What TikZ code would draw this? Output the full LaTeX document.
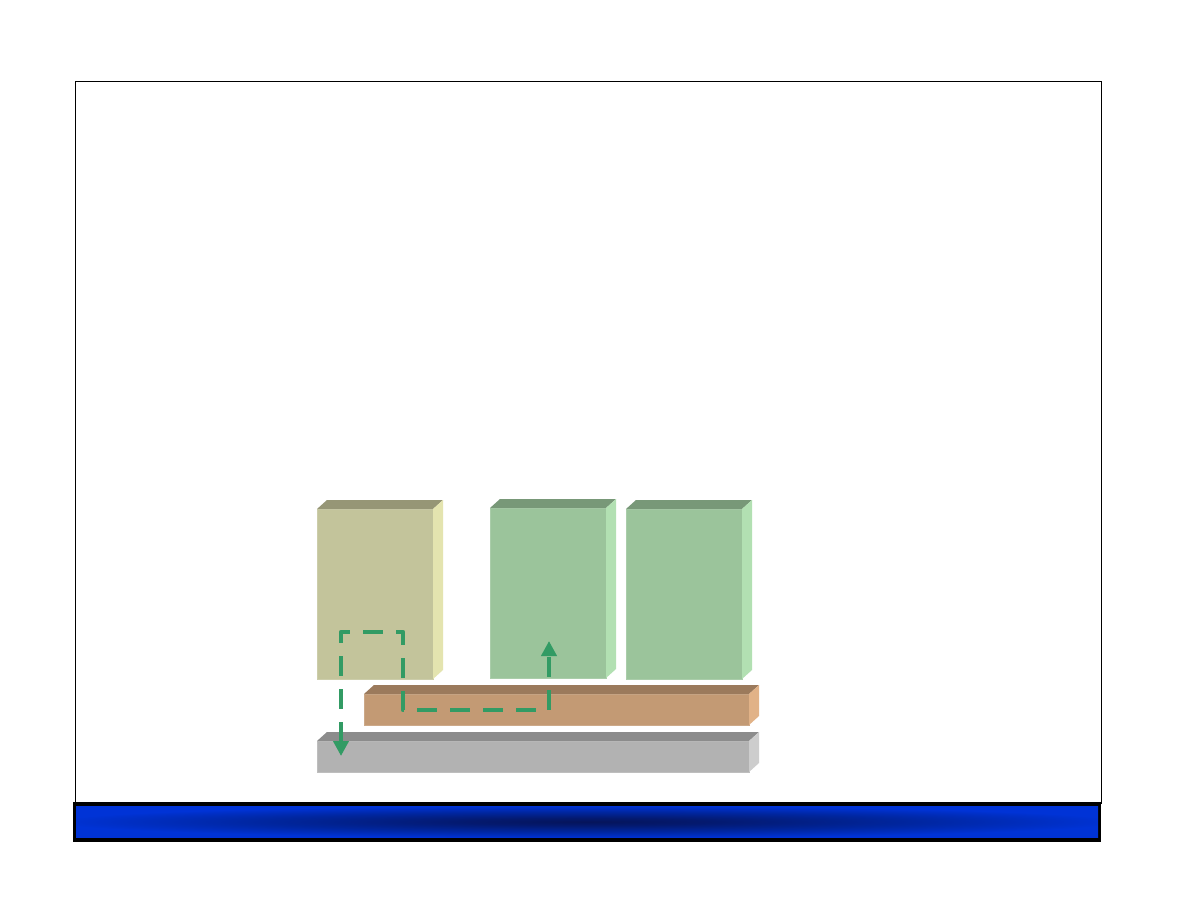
\documentclass[tikz,border=0pt]{standalone}
\usetikzlibrary{arrows.meta,positioning,calc}
\definecolor{OliveFront}{RGB}{195,196,155}
\definecolor{OliveTop}{RGB}{150,150,118}
\definecolor{OliveSide}{RGB}{228,228,175}
\definecolor{LeafFront}{RGB}{155,196,155}
\definecolor{LeafTop}{RGB}{120,152,120}
\definecolor{LeafSide}{RGB}{178,224,178}
\definecolor{CopperFront}{RGB}{195,154,116}
\definecolor{CopperTop}{RGB}{155,122,92}
\definecolor{CopperSide}{RGB}{225,178,135}
\definecolor{SlateFront}{RGB}{178,178,178}
\definecolor{SlateTop}{RGB}{140,140,140}
\definecolor{SlateSide}{RGB}{205,205,205}
\definecolor{PathGreen}{RGB}{50,155,100}
\definecolor{BarBlue}{RGB}{0,51,214}
\definecolor{BarMid}{RGB}{0,38,160}
\definecolor{BarNavy}{RGB}{5,20,90}
\pgfdeclareradialshading{barglow}{\pgfpoint{0bp}{0bp}}{color(0bp)=(BarNavy); color(6bp)=(BarNavy!70!BarMid); color(16bp)=(BarMid); color(26bp)=(BarBlue); color(50bp)=(BarBlue)}
\tikzset{
  slab/.style={rectangle,inner sep=0pt,outer sep=0pt,anchor=north west,
    line width=0.6pt},
  flow/.style={line width=4.5pt,color=PathGreen,dash pattern=on 20pt off 13pt,
    line join=round,{Triangle[width=15pt,length=15pt]}-{Triangle[width=15pt,length=15pt]}}
}
\begin{document}
\begin{tikzpicture}[x=1pt,y=-1pt]
  \useasboundingbox (0,0) rectangle (1188,918);
  \fill[white] (0,0) rectangle (1188,918);
  % slide frame and footer bar
  \draw[line width=1pt] (75,81) rectangle (1101.5,803);
  \node[rectangle,fill=black,minimum width=1028pt,minimum height=40pt,
    inner sep=0pt,anchor=north west] (footer) at (73,802) {};
  \node[rectangle,shading=barglow,minimum width=1022pt,minimum height=31pt,
    inner sep=0pt,anchor=north west] (band) at (76,806) {};
  % blocks
  \node[slab,fill=OliveFront,draw=OliveFront!85!white,minimum width=116pt,minimum height=170pt] (tower) at (317,509) {};
  \node[slab,fill=LeafFront,draw=LeafFront!85!white,minimum width=116pt,minimum height=170pt] (leafA) at (490,508) {};
  \node[slab,fill=LeafFront,draw=LeafFront!85!white,minimum width=116pt,minimum height=170pt] (leafB) at (626,509) {};
  \node[slab,fill=CopperFront,draw=CopperFront!85!white,minimum width=385pt,minimum height=31pt] (copper) at (364,694) {};
  \node[slab,fill=SlateFront,draw=SlateFront!85!white,minimum width=432pt,minimum height=31pt] (slate) at (317,741) {};
  \foreach \n/\t/\s in {tower/OliveTop/OliveSide,leafA/LeafTop/LeafSide,
      leafB/LeafTop/LeafSide,copper/CopperTop/CopperSide,slate/SlateTop/SlateSide}{
    \fill[\t] (\n.north west) -- ++(10,-9) -- ($(\n.north east)+(10,-9)$) -- (\n.north east) -- cycle;
    \fill[\s] (\n.north east) -- ++(10,-9) -- ($(\n.south east)+(10,-9)$) -- (\n.south east) -- cycle;
  }
  % data path
  \coordinate (down) at (341,756);
  \coordinate (turnA) at (341,632);
  \coordinate (turnB) at (403,632);
  \coordinate (turnC) at (403,710);
  \coordinate (up) at (549,641);
  \draw[flow] (down) -- (turnA) -- (turnB) -- (turnC) -- (turnC -| up) -- (up);
\end{tikzpicture}
\end{document}
